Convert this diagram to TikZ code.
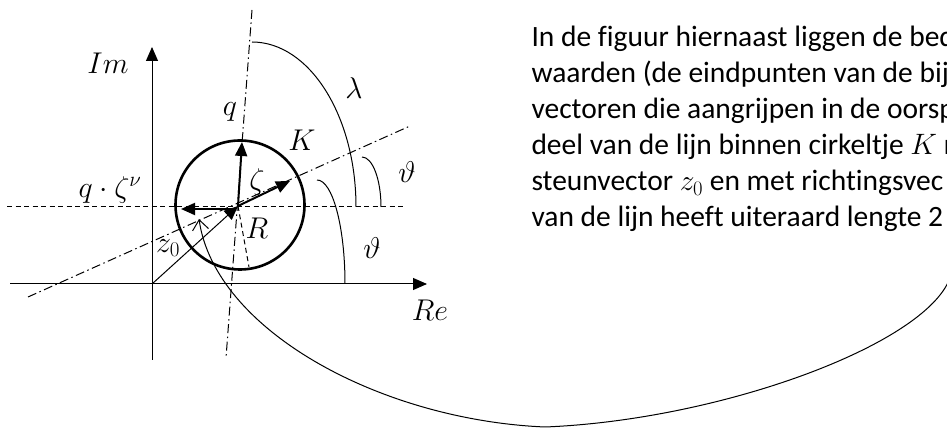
\RequirePackage{fix-cm}
\documentclass[tikz,border=0pt]{standalone}
\usepackage{fontspec}
\setmainfont{Carlito}[Ligatures=NoCommon]
\usetikzlibrary{positioning,arrows.meta}

\begin{document}
\begin{tikzpicture}[x=1pt,y=1pt,line width=1pt,
  vector/.style={-{Triangle[length=14pt,width=12pt]}},
  hulplijn/.style={dash pattern=on 9pt off 3.5pt on 1.5pt off 3.5pt},
  streep/.style={dash pattern=on 5pt off 3.5pt}]
\useasboundingbox (0,0) rectangle (947,430);
\tikzstyle{every node}=[inner sep=0pt,font=\fontsize{30}{36}\selectfont]
% punten
\coordinate (O) at (152,146);
\coordinate (M) at (238,224);
\coordinate (reL) at (10,146);
\coordinate (re) at (427,146);
\coordinate (imL) at (152,70);
\coordinate (im) at (152,383);
\coordinate (hL) at (7,223);
\coordinate (hR) at (405,223);
\coordinate (qA) at (252,420);
\coordinate (qB) at (226,72);
\coordinate (tA) at (28,133);
\coordinate (tB) at (410,304);
\coordinate (qt) at (242,288);
\coordinate (zt) at (290,249);
\coordinate (nh) at (236,221);
\coordinate (nt) at (181,221);
\coordinate (rt) at (249,163);
\coordinate (S) at (950,152);
\coordinate (B) at (545,3);
\coordinate (T) at (199,211);

% assen en hulplijnen
\draw[vector] (reL) -- (re);
\draw[vector] (imL) -- (im);
\draw[streep] (hL) -- (hR);
\draw[hulplijn] (qA) -- (qB);
\draw[hulplijn] (tA) -- (tB);
\draw[streep] (M) -- (rt);

% cirkel K
\draw[line width=2.6pt] (240,225) circle (64.5);

% vectoren
\draw[vector,line width=2pt] (M) -- (qt);
\draw[vector,line width=2pt] (M) -- (zt);
\draw[vector,line width=2pt] (nh) -- (nt);
\draw[vector] (O) -- (M);

% hoeken
\draw (252,388) arc[start angle=90,end angle=0,x radius=104,y radius=165];
\draw (362,273) arc[start angle=90,end angle=0,x radius=19,y radius=50];
\draw (317,250) arc[start angle=90,end angle=0,x radius=28,y radius=104];

% verwijzing
\draw[-{Straight Barb[length=10pt,width=16pt]}] (S) .. controls (925,85) and (720,10) .. (B)
  .. controls (380,10) and (215,100) .. (T);

% labels
\node (lIm) at (108,367) {$Im$};
\node (lRe) at (430,120) {$Re$};
\node (lq) at (230,318) {$q$};
\node (lK) at (302,290) {$K$};
\node (lzeta) at (257,248) {$\zeta$};
\node (lqz) at (110,240) {$q\cdot\zeta^\nu$};
\node (lR) at (257,202) {$R$};
\node (lz0) at (168,182) {$z_0$};
\node (llambda) at (354,342) {$\lambda$};
\node (lth1) at (407,258) {$\vartheta$};
\node (lth2) at (372,182) {$\vartheta$};

\node[anchor=north west,align=left,font=\fontsize{29.5}{36}\selectfont] (uitleg) at (531,404)
  {In de figuur hiernaast liggen de bed\\
   waarden (de eindpunten van de bij\\
   vectoren die aangrijpen in de oorsp\\
   deel van de lijn binnen cirkeltje $K$ r\\
   steunvector $z_0$ en met richtingsvec\\
   van de lijn heeft uiteraard lengte 2};
\end{tikzpicture}
\end{document}
